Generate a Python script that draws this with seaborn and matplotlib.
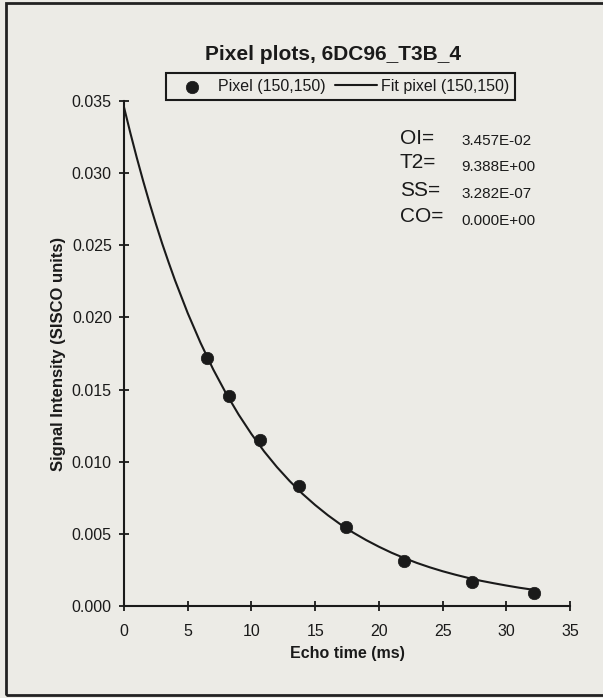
import matplotlib
matplotlib.use("Agg")
import matplotlib.pyplot as plt
import matplotlib.patches as mpatches
import seaborn as sns
import pandas as pd

# ---- data ----
echo_time = [6.54, 8.24, 10.68, 13.74, 17.4, 21.98, 27.34, 32.2]
pixel_signal = [0.01717, 0.01457, 0.01150, 0.00834, 0.00545, 0.00312, 0.00169, 0.00088]

fit_time = [0, 0.5, 1, 1.5, 2, 2.5, 3, 3.5, 4, 5, 6, 7, 8, 9, 10, 11, 12, 13, 14, 15,
            16, 17, 18, 19, 20, 21, 22, 23, 24, 25, 26, 27, 28, 29, 30, 31, 32, 32.2]
fit_signal = [0.03457, 0.03278, 0.03108, 0.02947, 0.02794, 0.02649, 0.02511, 0.02382,
              0.02258, 0.02030, 0.01825, 0.01640, 0.01475, 0.01326, 0.01192, 0.01071,
              0.00963, 0.00866, 0.00778, 0.00700, 0.00629, 0.00565, 0.00508, 0.00457,
              0.00411, 0.00369, 0.00332, 0.00298, 0.00268, 0.00241, 0.00217, 0.00195,
              0.00175, 0.00158, 0.00142, 0.00127, 0.00114, 0.00112]

param_names = ["OI=", "T2=", "SS=", "CO="]
param_values = ["3.457E-02", "9.388E+00", "3.282E-07", "0.000E+00"]

x_ticks = [0, 5, 10, 15, 20, 25, 30, 35]
y_ticks = [0.000, 0.005, 0.010, 0.015, 0.020, 0.025, 0.030, 0.035]

title = "Pixel plots, 6DC96_T3B_4"
pixel_label = "Pixel (150,150)"
fit_label = "Fit pixel (150,150)"
x_label = "Echo time (ms)"
y_label = "Signal Intensity (SISCO units)"

# ---- styling ----
sns.set_theme(style="ticks")
paper = "#ecebe6"
ink = "#1a1a1a"
plt.rcParams["font.family"] = ["Liberation Sans", "DejaVu Sans"]
plt.rcParams["text.color"] = ink
plt.rcParams["axes.labelcolor"] = ink
plt.rcParams["xtick.color"] = ink
plt.rcParams["ytick.color"] = ink

fig = plt.figure(figsize=(6.03, 6.98), dpi=100, facecolor=paper)
ax = fig.add_axes([124 / 603, 1 - 606 / 698, 446 / 603, 505 / 698])
ax.set_facecolor(paper)

pts = pd.DataFrame({"t": echo_time, "s": pixel_signal})
fit = pd.DataFrame({"t": fit_time, "s": fit_signal})

sns.lineplot(data=fit, x="t", y="s", ax=ax, color=ink, linewidth=1.5,
             label=fit_label, sort=False, zorder=2)
sns.scatterplot(data=pts, x="t", y="s", ax=ax, color=ink, s=80,
                edgecolor=ink, linewidth=0.5, label=pixel_label, zorder=3)

ax.set_xlim(0, 35)
ax.set_ylim(0, 0.035)
ax.set_xticks(x_ticks)
ax.set_yticks(y_ticks)
ax.set_xticklabels([str(v) for v in x_ticks])
ax.set_yticklabels([f"{v:.3f}" for v in y_ticks])
ax.tick_params(direction="inout", length=6.5, width=1.3, labelsize=11.5, pad=5.5)
ax.tick_params(axis="x", pad=10)

for side in ["top", "right"]:
    ax.spines[side].set_visible(False)
for side in ["left", "bottom"]:
    ax.spines[side].set_linewidth(1.5)
    ax.spines[side].set_color(ink)

ax.set_xlabel(x_label, fontsize=11.5, fontweight="bold")
ax.set_ylabel(y_label, fontsize=12, fontweight="bold")
ax.xaxis.set_label_coords(0.5, -0.079)
ax.yaxis.set_label_coords(-0.131, 0.5)

fig.text(333 / 603, 1 - 54 / 698, title, ha="center", va="center",
         fontsize=15, fontweight="bold")

# legend: marker first, then line
handles, labels = ax.get_legend_handles_labels()
order = [labels.index(pixel_label), labels.index(fit_label)]
leg = fig.legend([handles[i] for i in order], [labels[i] for i in order],
                 loc="center", bbox_to_anchor=(340.5 / 603, 1 - 86.5 / 698),
                 ncol=2, fontsize=11.5, frameon=True, fancybox=False,
                 handlelength=2.6, handletextpad=0.3, columnspacing=0.6,
                 borderpad=0.35, borderaxespad=0)
leg.get_frame().set_edgecolor(ink)
leg.get_frame().set_linewidth(1.5)
leg.get_frame().set_facecolor(paper)
leg.get_frame().set_alpha(1)
if ax.get_legend():
    ax.get_legend().remove()

# parameter block
label_y = [138, 163, 190, 216]
value_y = [141, 167, 194, 221]
for name, val, ly, vy in zip(param_names, param_values, label_y, value_y):
    ax.text((400 - 124) / 446, (606 - ly) / 505, name, transform=ax.transAxes,
            ha="left", va="center", fontsize=15)
    ax.text((461 - 124) / 446, (606 - vy) / 505, val, transform=ax.transAxes,
            ha="left", va="center", fontsize=11)

# outer frame of the page
frame = mpatches.Rectangle((6 / 603, 3 / 698), 700 / 603, 692 / 698,
                           transform=fig.transFigure, fill=False,
                           edgecolor="#222222", linewidth=2.0, clip_on=False)
fig.patches.append(frame)

fig.savefig("out.png", dpi=100, facecolor=paper)
